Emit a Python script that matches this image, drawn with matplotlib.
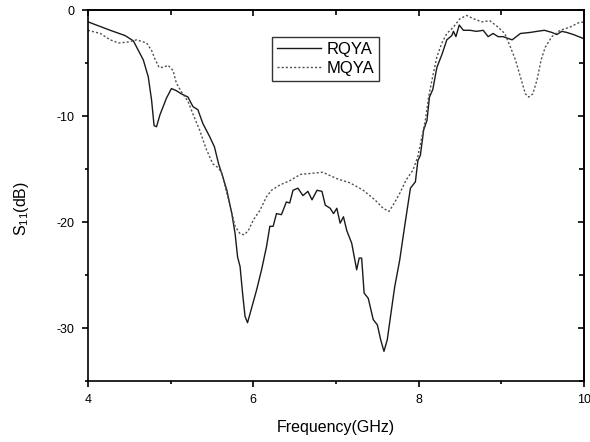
import matplotlib.pyplot as plt
from matplotlib.ticker import MultipleLocator

plt.rcParams["font.family"] = ["Liberation Sans", "DejaVu Sans"]
plt.rcParams["axes.unicode_minus"] = False
plt.rcParams["mathtext.fontset"] = "custom"
plt.rcParams["mathtext.rm"] = "Liberation Sans"
plt.rcParams["mathtext.it"] = "Liberation Sans:italic"

# RQYA (solid)
rq_f = [4.00, 4.27, 4.45, 4.55, 4.67, 4.73, 4.77, 4.80, 4.83, 4.87, 4.91, 4.95,
        5.01, 5.07, 5.13, 5.21, 5.27, 5.33, 5.39, 5.47, 5.53, 5.58, 5.63, 5.68,
        5.74, 5.78, 5.81, 5.84, 5.87, 5.90, 5.93, 5.98, 6.04, 6.10, 6.16, 6.20,
        6.24, 6.28, 6.34, 6.40, 6.44, 6.48, 6.54, 6.60, 6.66, 6.71, 6.77, 6.83,
        6.87, 6.93, 6.97, 7.01, 7.05, 7.09, 7.13, 7.19, 7.25, 7.28, 7.31, 7.34,
        7.39, 7.45, 7.50, 7.54, 7.58, 7.62, 7.67, 7.71, 7.77, 7.83, 7.90, 7.96,
        7.99, 8.02, 8.06, 8.10, 8.13, 8.17, 8.22, 8.28, 8.34, 8.40, 8.42, 8.45,
        8.49, 8.54, 8.62, 8.70, 8.78, 8.84, 8.90, 8.96, 9.02, 9.13, 9.23, 9.35,
        9.43, 9.52, 9.61, 9.67, 9.73, 9.79, 9.87, 10.00]
rq_s = [-1.1, -1.9, -2.4, -2.9, -4.7, -6.3, -8.5, -10.9, -11.0, -9.9, -9.1, -8.3,
        -7.4, -7.6, -7.9, -8.2, -9.1, -9.4, -10.7, -11.9, -12.9, -14.5, -15.7, -17.0,
        -19.2, -21.1, -23.3, -24.2, -26.7, -28.9, -29.5, -28.1, -26.4, -24.5, -22.3, -20.4,
        -20.4, -19.2, -19.3, -18.1, -18.2, -17.0, -16.8, -17.5, -17.1, -17.9, -17.0, -17.1,
        -18.4, -18.7, -19.2, -18.7, -20.1, -19.5, -20.8, -22.0, -24.5, -23.4, -23.4, -26.7,
        -27.2, -29.2, -29.7, -31.1, -32.2, -31.1, -28.3, -26.1, -23.6, -20.4, -16.8, -16.2,
        -14.2, -13.7, -11.3, -10.4, -8.2, -7.5, -5.4, -4.2, -2.8, -2.4, -2.0, -2.5,
        -1.4, -1.9, -1.9, -2.0, -1.9, -2.5, -2.2, -2.5, -2.5, -2.8, -2.2, -2.1,
        -2.0, -1.9, -2.1, -2.3, -2.0, -2.1, -2.3, -2.7]

# MQYA (dotted)
mq_f = [4.00, 4.15, 4.27, 4.37, 4.49, 4.59, 4.71, 4.77, 4.81, 4.86, 4.91, 4.97,
        5.03, 5.07, 5.13, 5.21, 5.27, 5.35, 5.43, 5.51, 5.58, 5.62, 5.67, 5.72,
        5.78, 5.84, 5.89, 5.94, 6.00, 6.08, 6.16, 6.22, 6.32, 6.44, 6.57, 6.84,
        7.01, 7.17, 7.33, 7.47, 7.57, 7.64, 7.69, 7.77, 7.85, 7.93, 7.99, 8.04,
        8.08, 8.12, 8.16, 8.22, 8.28, 8.34, 8.42, 8.50, 8.58, 8.66, 8.76, 8.86,
        8.96, 9.04, 9.11, 9.17, 9.23, 9.29, 9.33, 9.38, 9.43, 9.48, 9.53, 9.61,
        9.71, 9.83, 9.93, 10.00]
mq_s = [-1.9, -2.2, -2.8, -3.1, -3.0, -2.8, -3.1, -3.8, -4.6, -5.4, -5.4, -5.2,
        -5.7, -6.9, -7.7, -8.6, -9.8, -11.3, -13.1, -14.5, -14.9, -15.4, -17.0, -18.5,
        -20.4, -21.1, -21.2, -20.8, -19.8, -18.9, -17.6, -17.0, -16.5, -16.1, -15.5, -15.3,
        -15.9, -16.3, -17.0, -17.9, -18.7, -19.0, -18.4, -17.3, -16.0, -15.1, -13.8, -11.9,
        -10.4, -8.2, -6.6, -4.4, -3.1, -2.2, -1.6, -0.8, -0.5, -0.8, -1.1, -1.0,
        -1.6, -2.2, -3.5, -4.7, -6.3, -7.9, -8.2, -7.9, -6.6, -4.7, -3.5, -2.5,
        -1.9, -1.6, -1.2, -1.1]

fig = plt.figure(figsize=(5.9, 4.42), dpi=100)
ax = fig.add_axes([0.149, 0.138, 0.841, 0.839])

ax.plot(rq_f, rq_s, color="#1a1a1a", linewidth=1.0, label="RQYA")
ax.plot(mq_f, mq_s, color="#505050", linewidth=1.0, linestyle=(0, (1.5, 1.5)), label="MQYA")

ax.set_xlim(4, 10)
ax.set_ylim(-35, 0)
ax.xaxis.set_major_locator(MultipleLocator(2))
ax.xaxis.set_minor_locator(MultipleLocator(1))
ax.yaxis.set_major_locator(MultipleLocator(10))
ax.yaxis.set_minor_locator(MultipleLocator(5))
# bottom/left ticks point out, as in the original
ax.tick_params(which="both", direction="out", labelsize=9, width=1.2, pad=5)
ax.tick_params(which="major", length=4.5)
ax.tick_params(which="minor", length=2.5)
for sp in ax.spines.values():
    sp.set_linewidth(1.2)

# top/right ticks point in, no labels
top = ax.secondary_xaxis("top")
top.xaxis.set_major_locator(MultipleLocator(2))
top.xaxis.set_minor_locator(MultipleLocator(1))
top.tick_params(which="both", direction="in", labeltop=False, width=1.2)
top.tick_params(which="major", length=4.5)
top.tick_params(which="minor", length=3.5)
right = ax.secondary_yaxis("right")
right.yaxis.set_major_locator(MultipleLocator(10))
right.yaxis.set_minor_locator(MultipleLocator(5))
right.tick_params(which="both", direction="in", labelright=False, width=1.2)
right.tick_params(which="major", length=4.5)
right.tick_params(which="minor", length=3.5)
for sec in (top, right):
    for sp in sec.spines.values():
        sp.set_linewidth(1.2)

ax.set_xlabel("Frequency(GHz)", fontsize=11.5)
ax.set_ylabel("S$_{11}$(dB)", fontsize=11.5)
ax.xaxis.set_label_coords(0.5, -0.105)
ax.yaxis.set_label_coords(-0.115, 0.465)

leg = ax.legend(loc="upper left", bbox_to_anchor=(0.372, 0.928), fontsize=12,
                frameon=True, fancybox=False, edgecolor="black", borderpad=0.3,
                handlelength=2.6, labelspacing=0.25, handletextpad=0.35, borderaxespad=0)
leg.get_frame().set_linewidth(1.0)

fig.savefig("out.png", dpi=100)
